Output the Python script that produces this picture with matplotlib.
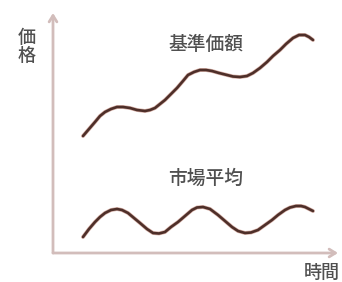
import matplotlib
matplotlib.use("Agg")
import matplotlib.pyplot as plt
import matplotlib.patheffects as pe

plt.rcParams['font.family'] = ['Noto Sans CJK JP', 'DejaVu Sans']

# time (x) and price (y) values
nav_time = [30, 36, 42, 47, 52, 58, 64, 70, 77, 84, 92, 97, 102, 107, 112, 118, 124, 130, 135, 141,
            147, 153, 159, 166, 174, 180, 187, 194, 200, 207, 214, 220, 227, 233, 240, 246, 252, 256, 260]
nav_price = [117, 124, 131, 137, 141, 144, 146, 146, 145, 143, 142, 143, 145, 149, 153, 159, 165, 172, 178, 181,
             183, 183, 182, 180, 178, 176.5, 176, 177, 180, 185, 191, 197, 203, 209, 215, 218, 218, 216, 213]
mkt_time = [30, 36, 42, 47, 52, 58, 64, 69, 75, 81, 87, 94, 100, 106, 112, 118, 125, 132, 139, 144,
            150, 157, 165, 172, 179, 185, 192, 198, 205, 212, 219, 225, 232, 237, 243, 248, 252, 256, 260]
mkt_price = [16, 24, 31, 36, 40, 43, 44, 43, 40, 35, 30, 24, 20, 19.5, 21, 26, 31, 37, 43, 45.5,
             46, 44, 38, 32, 26, 22, 20, 20.5, 23, 28, 33, 38, 43, 45.5, 47, 47, 46, 44, 42]

label_nav = "基準価額"
label_mkt = "市場平均"
y_label = "価\n格"
x_label = "時間"

line_color = "#4e2f29"
axis_color = "#d2bdbb"
text_color = "#505050"

fig = plt.figure(figsize=(3.42, 2.82), dpi=100)
ax = fig.add_axes([0, 0, 1, 1])
ax.set_xlim(-53, 289)
ax.set_ylim(-29, 253)
ax.axis('off')

arrow = dict(arrowstyle='->,head_length=0.45,head_width=0.28', lw=2.0,
             color=axis_color, shrinkA=0, shrinkB=0)
ax.annotate('', xy=(0, 240), xytext=(0, 0), arrowprops=arrow)
ax.annotate('', xy=(285, 0), xytext=(0, 0), arrowprops=arrow)

halo = [pe.Stroke(linewidth=2.8, foreground='#d9b3aa'), pe.Normal()]
for t, p in ((nav_time, nav_price), (mkt_time, mkt_price)):
    ax.plot(t, p, color=line_color, lw=1.9, solid_capstyle='round',
            solid_joinstyle='round', path_effects=halo)

ax.text(153, 208, label_nav, fontsize=13.5, color=text_color, ha='center', va='center',
        fontweight='medium')
ax.text(153, 75, label_mkt, fontsize=13.5, color=text_color, ha='center', va='center',
        fontweight='medium')
ax.text(-26, 206, y_label, fontsize=13, color=text_color, ha='center', va='center',
        linespacing=1.05, fontweight='medium')
ax.text(269, -20, x_label, fontsize=13, color=text_color, ha='center', va='center',
        fontweight='medium')

fig.savefig('out.png', dpi=100)
